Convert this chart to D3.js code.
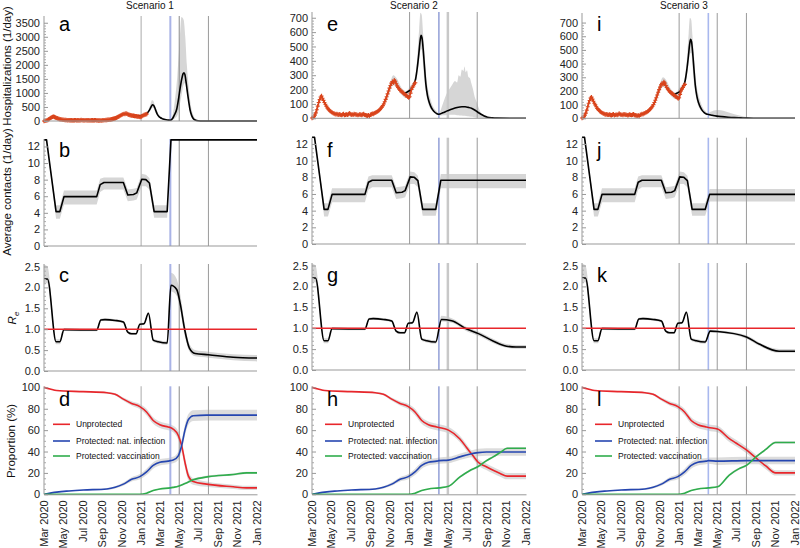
<!DOCTYPE html>
<html><head><meta charset="utf-8">
<script src="https://cdn.jsdelivr.net/npm/d3@7"></script>
<style>body{margin:0;background:#fff} svg{font-family:"Liberation Sans",Arial,Helvetica,sans-serif}</style>
</head><body><svg id="c" width="800" height="548"></svg>
<script>
// ---------------- DATA ----------------
const scenarios = ["Scenario 1", "Scenario 2", "Scenario 3"];
const panelLetters = [["a","b","c","d"],["e","f","g","h"],["i","j","k","l"]];
const xTickDates = ["2020-03-01","2020-05-01","2020-07-01","2020-09-01","2020-11-01","2021-01-01","2021-03-01","2021-05-01","2021-07-01","2021-09-01","2021-11-01","2022-01-01"];
const xTickLabels = ["Mar 2020","May 2020","Jul 2020","Sep 2020","Nov 2020","Jan 2021","Mar 2021","May 2021","Jul 2021","Sep 2021","Nov 2021","Jan 2022"];
const eventDates = ["2021-01-01","2021-04-03","2021-05-01","2021-08-01"];
const yTicksHosp = [[0,500,1000,1500,2000,2500,3000,3500],[0,100,200,300,400,500,600,700],[0,100,200,300,400,500,600,700]];
const yTicksContacts = [0,2,4,6,8,10,12];
const yTicksRe = [0,0.5,1.0,1.5,2.0,2.5];
const yTicksProp = [0,20,40,60,80,100];
const legendLabels = ["Unprotected","Protected: nat. infection","Protected: vaccination"];

// Observed hospitalizations, one value every 3 days from 1 Mar 2020
const hospObs = [2,5,12,22,38,60,85,110,130,148,155,140,125,110,98,85,72,65,58,50,
  45,40,36,33,30,28,30,26,25,28,24,22,26,30,22,25,27,24,28,35,
  30,25,27,24,30,28,26,25,22,24,28,25,23,26,30,24,22,20,18,22,
  15,25,28,32,30,35,38,42,45,50,55,62,70,78,88,100,115,132,150,170,
  190,210,228,245,255,248,265,258,240,225,215,205,195,190,185,180,172,168,160,158,
  150,145,150,175,200,215,225,240,248];
const obsStepDays = 3;

// model hospitalizations [day since 1 Mar 2020, value]
const hospModelCommon = [[280,185],[290,175],[300,185],[310,200],[320,240],[325,275],[330,350],[335,450],[339,540],[342,578],[345,560],[349,470],[353,350],[357,240],[362,160],[367,115],[372,85],[378,60],[385,42],[392,32],[398,28]];
const hospModelS1 = [[405,90],[410,200],[418,420],[424,800],[429,1180],[434,1500],[438,1680],[441,1720],[444,1650],[448,1350],[452,1000],[456,680],[460,400],[465,200],[470,90],[476,35],[485,10],[500,2],[671,0]];
const hospModelS2 = [[410,38],[425,52],[440,65],[455,75],[470,80],[480,80],[490,76],[500,70],[510,58],[520,42],[530,28],[540,16],[550,8],[565,3],[580,1],[671,0]];
const hospModelS3 = [[410,22],[425,16],[440,12],[460,8],[480,5],[500,3],[520,1],[540,0],[671,0]];
// uncertainty band [day, low, high]
const hospBandCommon = [[230,100,140],[245,190,250],[255,230,300],[265,215,280],[280,165,215],[295,140,190],[310,170,230],[320,220,260],[330,300,420],[336,400,620],[340,470,735],[344,480,720],[348,380,600],[353,250,450],[358,170,300],[365,100,190],[372,65,130],[380,45,80],[390,25,50],[398,22,35]];
const hospBandS1 = [[405,40,200],[412,100,700],[420,200,1600],[428,600,3000],[433,900,3700],[440,1300,3600],[445,1350,3000],[450,1050,2000],[456,600,1200],[462,300,600],[470,60,220],[480,5,60],[495,0,10],[520,0,2],[671,0,0]];
const hospBandS2 = [[400,20,40],[410,22,100],[420,22,160],[430,25,200],[440,25,235],[448,24,260],[455,22,250],[460,22,300],[465,20,290],[470,20,340],[475,18,330],[478,18,360],[482,16,320],[486,15,335],[490,14,290],[495,12,280],[500,10,240],[505,9,200],[510,7,150],[515,5,120],[525,3,60],[535,1,22],[550,0,5],[570,0,1],[671,0,0]];
const hospBandS3 = [[400,20,40],[410,14,52],[420,11,58],[430,8,60],[445,6,55],[460,4,45],[480,2,30],[500,1,18],[520,0,8],[540,0,2],[671,0,0]];

// average contacts [day, value, low, high]
const contactsCommon = [[0,12.8,12.8,12.8],[8,12.8,12.6,12.9],[38,4.15,3.3,4.9],[50,4.15,3.3,4.9],[63,5.95,5.0,6.7],[166,5.95,5.0,6.7],[177,7.4,6.5,8.1],[189,7.65,6.8,8.25],[250,7.65,6.8,8.25],[264,6.15,5.4,6.8],[282,6.2,5.5,6.9],[292,6.4,5.6,7.0],[308,8.05,7.2,8.7],[321,8.0,7.2,8.6],[332,7.6,6.8,8.2],[347,4.15,3.4,4.9],[388,4.15,3.4,4.9]];
const contactsS1 = [[400,12.8,12.8,12.8],[671,12.8,12.8,12.8]];
const contactsS2 = [[404,7.65,6.7,8.4],[671,7.65,6.7,8.4]];
const contactsS3 = [[402,5.95,5.1,6.6],[671,5.95,5.1,6.6]];

// effective reproduction number [day, value, low, high]
const reCommon = [[0,2.2,2.1,2.55],[11,2.2,2.1,2.5],[38,0.7,0.64,0.76],[50,0.7,0.64,0.76],[63,0.99,0.96,1.02],[166,0.98,0.95,1.01],[179,1.22,1.19,1.25],[192,1.23,1.2,1.26],[224,1.21,1.18,1.24],[250,1.17,1.14,1.2],[264,0.93,0.9,0.96],[276,0.89,0.86,0.92],[290,0.89,0.86,0.92],[302,1.12,1.09,1.15],[315,1.13,1.1,1.16],[329,1.38,1.34,1.42],[344,0.74,0.7,0.78],[360,0.7,0.66,0.74],[388,0.67,0.63,0.71]];
const reS1 = [[400,2.05,1.9,2.35],[418,1.95,1.8,2.2],[429,1.62,1.45,1.85],[443,1.0,0.85,1.15],[458,0.55,0.47,0.65],[476,0.42,0.35,0.5],[518,0.39,0.32,0.46],[596,0.33,0.26,0.4],[671,0.31,0.23,0.38]];
const reS2 = [[406,1.21,1.16,1.3],[438,1.18,1.13,1.24],[485,0.98,0.93,1.03],[522,0.87,0.82,0.92],[569,0.69,0.64,0.74],[610,0.57,0.53,0.62],[640,0.55,0.51,0.6],[671,0.55,0.51,0.6]];
const reS3 = [[404,0.93,0.9,0.97],[427,0.92,0.89,0.95],[518,0.79,0.75,0.83],[558,0.62,0.58,0.66],[621,0.45,0.41,0.5],[671,0.45,0.41,0.5]];
const reThreshold = 1.0;

// proportions (%) [day, value, spread]
const unprotCommon = [[0,100,0],[19,98.5,0.3],[40,97,0.5],[124,96,0.5],[198,95,0.8],[224,93.5,1],[250,89,1.5],[276,85,2],[302,82,2.5],[323,77,3],[344,69,3],[365,65,3],[391,63,3],[398,62.5,3]];
const unprotS1 = [[407,61,3],[423,55,4],[434,45,5],[444,30,5],[455,17,4],[470,12,3],[512,9.5,2.5],[596,7,2],[638,6,2],[671,6,2]];
const unprotS2 = [[428,60,3],[463,52,3],[484,44,3],[494,40,3],[505,36,3],[521,30,3],[545,26,3],[568,22.5,3],[590,19.5,3],[612,17,3],[671,17,3]];
const unprotS3 = [[427,61,3],[464,52,3],[485,48,3],[518,41.5,3],[548,34,3],[579,26.5,3],[610,20,2.5],[671,20,2.5]];
const natCommon = [[0,0,0],[40,2,0.3],[71,3,0.4],[124,4,0.5],[198,5,0.8],[224,6.5,1],[250,9.5,1.5],[276,14,2],[302,16.5,2.5],[323,21,3],[344,27,3],[365,30,3],[391,31,3],[398,31.5,3]];
const natS1 = [[407,32,3],[423,36,4],[434,46,5],[444,60,5],[455,70,5],[470,73.5,5],[512,74,5],[671,74,5]];
const natS2 = [[428,32,3],[463,35,3],[494,37.5,3],[521,39,3.5],[547,39.5,3.5],[671,39.5,3.5]];
const natS3 = [[427,31,3.5],[518,31.5,3.5],[671,31.5,3.5]];
const vacCommon = [[0,0,0],[302,0,0],[323,1,0.3],[344,3.5,0.5],[365,5,0.5],[398,6,0.6]];
const vacS1 = [[407,6.5,0.6],[423,7.5,0.7],[444,10,0.8],[470,13.5,1],[518,16.5,1],[596,18.5,1],[638,20,1],[671,20,1]];
const vacS2 = [[428,7.5,0.7],[463,16,1],[494,22,1],[521,26,1],[545,31,1],[568,35,1],[590,39,1],[612,43,1],[671,43,1]];
const vacS3 = [[427,7,0.7],[464,18,1],[495,24,1],[518,27,1],[548,35,1],[579,42,1],[610,48.5,1],[671,48.5,1]];

// ---------------- LAYOUT / STYLE ----------------
const cols = [{left:44,right:257,title:150},{left:312,right:526,title:414},{left:582,right:795,title:684}];
const yGeom = [
  [{dom:[0,3740],rng:[121,16]},{dom:[0,740],rng:[118.3,12]},{dom:[0,770],rng:[118.3,13]}],
  [{dom:[0,12.9],rng:[246,139]},{dom:[0,12.75],rng:[244,137.7]},{dom:[0,12.75],rng:[244,137.7]}],
  [{dom:[0,2.56],rng:[371,264]},{dom:[0,2.56],rng:[370,263]},{dom:[0,2.56],rng:[370,263]}],
  [{dom:[0,101],rng:[494.3,386.3]},{dom:[0,101],rng:[494.3,386.3]},{dom:[0,101],rng:[494.3,386.3]}]
];
const letterBaseline = [31,157,282,406];
const eventStyles = [
  [{c:"#b8b8b8",w:1.2},{c:"#a9b3e6",w:2},{c:"#8a8a8a",w:1},{c:"#9a9a9a",w:1}],
  [{c:"#9a9a9a",w:1},{c:"#5d70c2",w:1},{c:"#c8c8c8",w:2.5},{c:"#9a9a9a",w:1}],
  [{c:"#9a9a9a",w:1},{c:"#a9b8ee",w:1.6},{c:"#9a9a9a",w:1},{c:"#9a9a9a",w:1}]
];
const RED = "#e8262b", BLUE = "#2546b0", GREEN = "#2fad4c", OBS = "#d9441c", BAND = "#d6d6d6";

// ---------------- DRAW ----------------
const svg = d3.select("#c");
const T0 = Date.UTC(2020, 2, 1);
const dayToDate = d => new Date(T0 + d * 864e5);
const parseD = d3.utcParse("%Y-%m-%d");

const hospModels = [hospModelS1, hospModelS2, hospModelS3];
const hospBands = [hospBandS1, hospBandS2, hospBandS3];
const contactsTails = [contactsS1, contactsS2, contactsS3];
const reTails = [reS1, reS2, reS3];
const unprotTails = [unprotS1, unprotS2, unprotS3];
const natTails = [natS1, natS2, natS3];
const vacTails = [vacS1, vacS2, vacS3];

function minorTicks(majors, n) {
  const out = [];
  for (let i = 0; i < majors.length - 1; i++) {
    const a = majors[i], b = majors[i+1];
    for (let k = 1; k <= n; k++) out.push(a + (b - a) * k / (n + 1));
  }
  return out;
}

cols.forEach((col, c) => {
  const x = d3.scaleUtc().domain([parseD("2020-03-01"), parseD("2022-01-01")]).range([col.left, col.right]);

  // title
  svg.append("text").attr("x", col.title).attr("y", 9).attr("text-anchor", "middle")
    .attr("font-size", 10).attr("fill", "#111").text(scenarios[c]);

  for (let r = 0; r < 4; r++) {
    const g = yGeom[r][c];
    const y = d3.scaleLinear().domain(g.dom).range(g.rng);
    const grp = svg.append("g");
    const bottom = g.rng[0], top = g.rng[1];

    const bandLayer = grp.append("g");
    const evLayer = grp.append("g");
    const lineLayer = grp.append("g");

    // event lines
    eventDates.forEach((ed, i) => {
      const st = eventStyles[c][i];
      evLayer.append("line").attr("x1", x(parseD(ed))).attr("x2", x(parseD(ed)))
        .attr("y1", bottom).attr("y2", top).attr("stroke", st.c).attr("stroke-width", st.w);
    });

    const area = d3.area().curve(d3.curveMonotoneX);
    const line = d3.line().curve(d3.curveMonotoneX);

    if (r === 0) {
      const band = hospBandCommon.concat(hospBands[c]);
      bandLayer.append("path").attr("fill", BAND)
        .attr("d", area.x(d => x(dayToDate(d[0]))).y0(d => y(d[1])).y1(d => y(d[2]))(band));
      const model = hospModelCommon.concat(hospModels[c]);
      lineLayer.append("path").attr("fill", "none").attr("stroke", "#000").attr("stroke-width", 1.6)
        .attr("d", line.x(d => x(dayToDate(d[0]))).y(d => y(d[1]))(model));
      const obs = hospObs.map((v, i) => [i * obsStepDays, v]);
      lineLayer.append("path").attr("fill", "none").attr("stroke", OBS).attr("stroke-width", 1.5)
        .attr("d", d3.line().x(d => x(dayToDate(d[0]))).y(d => y(d[1]))(obs));
      lineLayer.selectAll(null).data(obs).enter().append("path")
        .attr("transform", d => `translate(${x(dayToDate(d[0]))},${y(d[1])})`)
        .attr("d", "M-2,0H2M0,-2.2V2.2").attr("stroke", OBS).attr("stroke-width", 1.1);
    } else if (r === 1 || r === 2) {
      const data = (r === 1 ? contactsCommon.concat(contactsTails[c]) : reCommon.concat(reTails[c]));
      const lin = r === 1 ? d3.curveLinear : d3.curveMonotoneX;
      bandLayer.append("path").attr("fill", BAND)
        .attr("d", d3.area().curve(lin).x(d => x(dayToDate(d[0]))).y0(d => y(d[2])).y1(d => y(d[3]))(data));
      lineLayer.append("path").attr("fill", "none").attr("stroke", "#000").attr("stroke-width", 1.6)
        .attr("stroke-linejoin", "round")
        .attr("d", d3.line().curve(lin).x(d => x(dayToDate(d[0]))).y(d => y(d[1]))(data));
      if (r === 2) {
        lineLayer.append("line").attr("x1", col.left).attr("x2", col.right)
          .attr("y1", y(reThreshold)).attr("y2", y(reThreshold)).attr("stroke", RED).attr("stroke-width", 1.4);
      }
    } else {
      const series = [
        {d: unprotCommon.concat(unprotTails[c]), color: RED},
        {d: natCommon.concat(natTails[c]), color: BLUE},
        {d: vacCommon.concat(vacTails[c]), color: GREEN}
      ];
      series.forEach(s => {
        bandLayer.append("path").attr("fill", BAND).attr("opacity", 0.85)
          .attr("d", area.x(d => x(dayToDate(d[0]))).y0(d => y(Math.max(0, d[1] - d[2]))).y1(d => y(d[1] + d[2]))(s.d));
      });
      series.forEach(s => {
        lineLayer.append("path").attr("fill", "none").attr("stroke", s.color).attr("stroke-width", 1.6)
          .attr("d", line.x(d => x(dayToDate(d[0]))).y(d => y(d[1]))(s.d));
      });
      // legend
      const lx = col.left + (c === 0 ? 9 : 13);
      const ly = [424.3, 441, 456];
      series.forEach((s, i) => {
        grp.append("line").attr("x1", lx).attr("x2", lx + 17).attr("y1", ly[i]).attr("y2", ly[i])
          .attr("stroke", s.color).attr("stroke-width", 1.6);
        grp.append("text").attr("x", lx + 23).attr("y", ly[i]).attr("dy", "0.35em")
          .attr("font-size", 8.5).attr("fill", "#111").text(legendLabels[i]);
      });
    }

    // y axis
    const majors = r === 0 ? yTicksHosp[c] : r === 1 ? yTicksContacts : r === 2 ? yTicksRe : yTicksProp;
    const nMinor = r === 0 ? 4 : r === 1 ? 3 : r === 2 ? 4 : 3;
    const fmt = r === 2 ? d3.format(".1f") : d3.format("d");
    const ya = grp.append("g").attr("transform", `translate(${col.left},0)`)
      .call(d3.axisLeft(y).tickValues(majors).tickSize(-4).tickSizeOuter(0).tickPadding(4).tickFormat(fmt));
    ya.select(".domain").attr("stroke", "#999").attr("d", `M0,${bottom}V${top}`);
    ya.selectAll(".tick line").attr("stroke", "#999");
    ya.selectAll("text").attr("font-size", 11).attr("fill", "#222").attr("font-family", null);
    const ym = grp.append("g").attr("transform", `translate(${col.left},0)`)
      .call(d3.axisLeft(y).tickValues(minorTicks(majors, nMinor)).tickSize(-2).tickSizeOuter(0).tickFormat(""));
    ym.select(".domain").remove();
    ym.selectAll(".tick line").attr("stroke", "#aaa");

    // x axis
    if (r < 3) {
      grp.append("line").attr("x1", col.left).attr("x2", col.right).attr("y1", bottom).attr("y2", bottom)
        .attr("stroke", "#999");
    } else {
      const xa = grp.append("g").attr("transform", `translate(0,${bottom})`)
        .call(d3.axisBottom(x).tickValues(xTickDates.map(parseD)).tickSize(0).tickSizeOuter(0)
          .tickFormat((d, i) => xTickLabels[i]));
      xa.select(".domain").attr("stroke", "#999");
      xa.selectAll("text").attr("font-size", 11).attr("fill", "#222").attr("font-family", null)
        .attr("transform", "rotate(-90)").attr("x", -6).attr("y", 0).attr("dy", "0.3em")
        .style("text-anchor", "end");
    }

    // panel letter
    grp.append("text").attr("x", col.left + 15).attr("y", letterBaseline[r])
      .attr("font-size", 20).attr("fill", "#000").text(panelLetters[c][r]);
  }
});

// y axis titles (left column)
svg.append("text").attr("transform", "translate(11,66) rotate(-90)").attr("text-anchor", "middle")
  .attr("font-size", 11.5).attr("fill", "#111").text("Hospitalizations (1/day)");
svg.append("text").attr("transform", "translate(11,192) rotate(-90)").attr("text-anchor", "middle")
  .attr("font-size", 11.5).attr("fill", "#111").text("Average contacts (1/day)");
const reT = svg.append("text").attr("transform", "translate(16,318) rotate(-90)").attr("text-anchor", "middle")
  .attr("font-size", 11.5).attr("fill", "#111");
reT.append("tspan").attr("font-style", "italic").text("R");
reT.append("tspan").attr("font-style", "italic").attr("font-size", 8).attr("dy", 3).text("e");
svg.append("text").attr("transform", "translate(15,441) rotate(-90)").attr("text-anchor", "middle")
  .attr("font-size", 11.5).attr("fill", "#111").text("Proportion (%)");
</script></body></html>
